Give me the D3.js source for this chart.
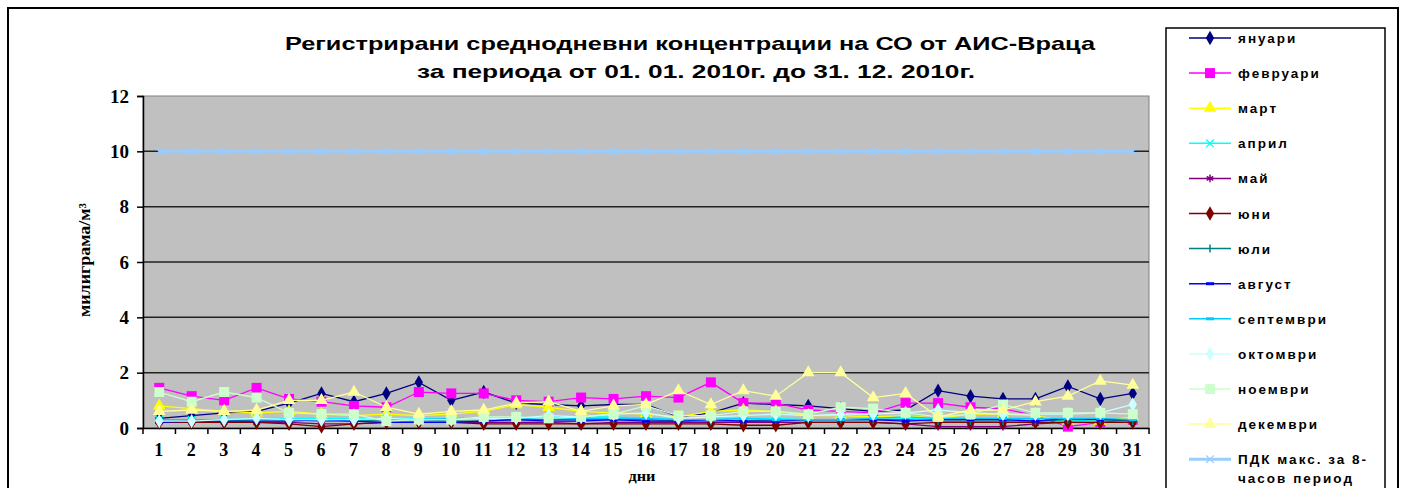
<!DOCTYPE html>
<html>
<head>
<meta charset="utf-8">
<script src="https://cdn.jsdelivr.net/npm/d3@7"></script>
<style>
  body { margin: 0; background: #fff; }
  svg { display: block; }
</style>
</head>
<body>
<div id="chart"></div>
<script>
// day labels on the x axis
var days = [1,2,3,4,5,6,7,8,9,10,11,12,13,14,15,16,17,18,19,20,21,22,23,24,25,26,27,28,29,30,31];
var yTicks = [0,2,4,6,8,10,12];

// daily mean CO, mg/m3
var jan = [0.35,0.45,0.55,0.6,0.9,1.25,0.95,1.25,1.65,1.0,1.3,0.9,0.85,0.8,0.85,0.85,0.4,0.55,0.9,0.85,0.8,0.7,0.6,0.65,1.35,1.15,1.05,1.05,1.5,1.05,1.25];
var feb = [1.45,1.15,1.0,1.45,1.05,0.95,0.8,0.75,1.3,1.25,1.25,1.0,0.95,1.1,1.05,1.15,1.1,1.65,0.9,0.9,0.65,0.6,0.55,0.9,0.9,0.75,0.7,0.45,0.05,0.2,0.3];
var mar = [0.8,0.7,0.6,0.55,0.6,0.5,0.45,0.5,0.45,0.5,0.6,0.85,0.75,0.6,0.55,0.5,0.4,0.6,0.65,0.6,0.45,0.45,0.4,0.45,0.35,0.5,0.5,0.45,0.25,0.25,0.4];
var apr = [0.3,0.3,0.3,0.35,0.35,0.35,0.35,0.35,0.35,0.3,0.35,0.35,0.4,0.4,0.4,0.35,0.3,0.3,0.35,0.35,0.3,0.3,0.3,0.35,0.35,0.3,0.3,0.3,0.25,0.3,0.3];
var may = [0.2,0.2,0.2,0.2,0.2,0.15,0.15,0.2,0.2,0.2,0.2,0.2,0.2,0.15,0.2,0.2,0.2,0.2,0.2,0.2,0.2,0.2,0.2,0.15,0.05,0.05,0.05,0.15,0.2,0.2,0.2];
var jun = [0.2,0.2,0.2,0.2,0.15,0.05,0.15,0.2,0.2,0.2,0.15,0.15,0.15,0.15,0.15,0.15,0.15,0.15,0.1,0.1,0.2,0.2,0.2,0.15,0.2,0.2,0.2,0.2,0.2,0.2,0.2];
var jul = [0.25,0.25,0.25,0.3,0.3,0.25,0.25,0.3,0.3,0.25,0.25,0.3,0.3,0.3,0.3,0.3,0.25,0.25,0.25,0.3,0.3,0.3,0.3,0.3,0.25,0.25,0.25,0.25,0.3,0.3,0.25];
var aug = [0.2,0.25,0.25,0.25,0.25,0.3,0.25,0.2,0.2,0.2,0.25,0.3,0.25,0.25,0.3,0.25,0.25,0.3,0.25,0.25,0.3,0.3,0.3,0.25,0.3,0.3,0.3,0.25,0.35,0.3,0.3];
var sep = [0.3,0.3,0.3,0.3,0.3,0.3,0.3,0.3,0.3,0.35,0.35,0.35,0.35,0.35,0.35,0.35,0.3,0.3,0.35,0.3,0.3,0.3,0.35,0.4,0.35,0.35,0.35,0.35,0.35,0.35,0.3];
var oct = [0.25,0.25,0.3,0.35,0.3,0.3,0.3,0.35,0.3,0.3,0.35,0.35,0.45,0.4,0.5,0.55,0.35,0.4,0.45,0.5,0.45,0.5,0.5,0.55,0.65,0.55,0.5,0.5,0.5,0.55,0.85];
var nov = [1.3,0.95,1.3,1.1,0.55,0.5,0.5,0.25,0.3,0.3,0.4,0.4,0.35,0.4,0.5,0.8,0.45,0.45,0.6,0.6,0.5,0.75,0.7,0.55,0.4,0.5,0.85,0.55,0.55,0.55,0.5];
var dec = [0.6,0.65,0.6,0.65,1.0,1.0,1.3,0.75,0.5,0.6,0.65,0.9,0.95,0.6,0.8,0.85,1.35,0.85,1.35,1.15,2.0,2.0,1.1,1.25,0.4,0.65,0.65,0.95,1.15,1.7,1.55];
var pdk = [10,10,10,10,10,10,10,10,10,10,10,10,10,10,10,10,10,10,10,10,10,10,10,10,10,10,10,10,10,10,10];

var seriesNames = ["януари","февруари","март","април","май","юни","юли","август","септември","октомври","ноември","декември","ПДК макс. за 8-часов период"];
var seriesValues = [jan,feb,mar,apr,may,jun,jul,aug,sep,oct,nov,dec,pdk];
var seriesColors = ["#000080","#ff00ff","#ffff00","#00ffff","#800080","#800000","#008080","#0000ff","#00ccff","#ccffff","#ccffcc","#ffff99","#99ccff"];
var seriesMarkers = ["diamond","square","triangle","x","star","diamond","plus","dash","dash","diamond","square","triangle","x"];

var svgWidth = 1404, svgHeight = 488;
var plot = {left: 143, top: 96, right: 1149, bottom: 428};

var svg = d3.select("#chart").append("svg")
  .attr("width", svgWidth)
  .attr("height", svgHeight);

// outer frame
svg.append("rect")
  .attr("x", 8).attr("y", 8)
  .attr("width", 1390).attr("height", 490)
  .attr("fill", "#fff").attr("stroke", "#000").attr("stroke-width", 2);

// scales
var x = d3.scaleBand().domain(days).range([plot.left, plot.right]).padding(0);
var y = d3.scaleLinear().domain([0, 12]).range([plot.bottom, plot.top]);
var cx = function(i) { return x(days[i]) + x.bandwidth() / 2; };

// plot area
svg.append("rect")
  .attr("x", plot.left).attr("y", plot.top)
  .attr("width", plot.right - plot.left).attr("height", plot.bottom - plot.top)
  .attr("fill", "#c0c0c0").attr("stroke", "#808080").attr("stroke-width", 1);

// gridlines
svg.append("g").selectAll("line")
  .data(yTicks.filter(function(d) { return d > 0 && d < 12; }))
  .enter().append("line")
  .attr("x1", plot.left).attr("x2", plot.right)
  .attr("y1", function(d) { return y(d); }).attr("y2", function(d) { return y(d); })
  .attr("stroke", "#222").attr("stroke-width", 1.5);

// y axis
var yAxis = d3.axisLeft(y).tickValues(yTicks).tickSize(6).tickPadding(8);
var gy = svg.append("g").attr("transform", "translate(" + plot.left + ",0)").call(yAxis);
gy.select(".domain").attr("stroke", "#000").attr("stroke-width", 1.5);
gy.selectAll(".tick line").attr("stroke", "#000").attr("stroke-width", 1.5);
gy.selectAll("text")
  .attr("font-family", "'Liberation Serif', 'DejaVu Serif', serif")
  .attr("font-weight", "bold").attr("font-size", 19).attr("fill", "#000");

// x axis: labels centered in bands, ticks on band edges
var xAxis = d3.axisBottom(x).tickSize(0).tickPadding(15);
var gx = svg.append("g").attr("transform", "translate(0," + plot.bottom + ")").call(xAxis);
gx.select(".domain").attr("stroke", "#000").attr("stroke-width", 1.5);
gx.selectAll("text")
  .attr("font-family", "'Liberation Serif', 'DejaVu Serif', serif")
  .attr("font-weight", "bold").attr("font-size", 18).attr("letter-spacing", 1).attr("fill", "#000");
gx.selectAll(".edge").data(days.concat([null])).enter().append("line")
  .attr("class", "edge")
  .attr("x1", function(d, i) { return plot.left + i * x.bandwidth(); })
  .attr("x2", function(d, i) { return plot.left + i * x.bandwidth(); })
  .attr("y1", 0).attr("y2", 6)
  .attr("stroke", "#000").attr("stroke-width", 1.5);

// axis titles
svg.append("text")
  .attr("transform", "translate(90," + ((plot.top + plot.bottom) / 2 - 2) + ") rotate(-90)")
  .attr("text-anchor", "middle")
  .attr("font-family", "'Liberation Serif', serif").attr("font-weight", "bold").attr("font-size", 16)
  .attr("textLength", 114).attr("lengthAdjust", "spacingAndGlyphs")
  .text("милиграма/м³");
svg.append("text")
  .attr("x", 642).attr("y", 481)
  .attr("text-anchor", "middle")
  .attr("font-family", "'Liberation Serif', serif").attr("font-weight", "bold").attr("font-size", 14)
  .attr("textLength", 27).attr("lengthAdjust", "spacingAndGlyphs")
  .text("дни");

// title, stretched wide like the original
var title = svg.append("text")
  .attr("text-anchor", "middle")
  .attr("font-family", "'Liberation Sans', Arial, sans-serif").attr("font-weight", "bold")
  .attr("font-size", 19).attr("fill", "#000");
title.append("tspan").attr("x", 690).attr("y", 50)
  .attr("textLength", 810).attr("lengthAdjust", "spacingAndGlyphs")
  .text("Регистрирани среднодневни концентрации на СО от  АИС-Враца");
title.append("tspan").attr("x", 696).attr("y", 78)
  .attr("textLength", 558).attr("lengthAdjust", "spacingAndGlyphs")
  .text("за периода от 01. 01. 2010г. до 31. 12. 2010г.");

// markers
function drawMarker(g, type, color, px, py) {
  if (type === "diamond") {
    g.append("path").attr("d", d3.symbol().type(d3.symbolDiamond).size(60)())
      .attr("transform", "translate(" + px + "," + py + ")").attr("fill", color);
  } else if (type === "square") {
    g.append("rect").attr("x", px - 5).attr("y", py - 5).attr("width", 10).attr("height", 10).attr("fill", color);
  } else if (type === "triangle") {
    g.append("path").attr("d", d3.symbol().type(d3.symbolTriangle).size(70)())
      .attr("transform", "translate(" + px + "," + py + ")").attr("fill", color);
  } else if (type === "x") {
    g.append("path").attr("d", d3.symbol().type(d3.symbolX).size(40)())
      .attr("transform", "translate(" + px + "," + py + ")").attr("fill", "none").attr("stroke", color).attr("stroke-width", 1.2);
  } else if (type === "star") {
    g.append("path").attr("d", d3.symbol().type(d3.symbolAsterisk).size(40)())
      .attr("transform", "translate(" + px + "," + py + ")").attr("fill", "none").attr("stroke", color).attr("stroke-width", 1.5);
  } else if (type === "plus") {
    g.append("line").attr("x1", px).attr("x2", px).attr("y1", py - 4).attr("y2", py + 4)
      .attr("stroke", color).attr("stroke-width", 1.5);
  } else if (type === "dash") {
    g.append("line").attr("x1", px - 4).attr("x2", px + 4).attr("y1", py).attr("y2", py)
      .attr("stroke", color).attr("stroke-width", 3);
  }
}

// series lines
var line = d3.line().x(function(d, i) { return cx(i); }).y(function(d) { return y(d); });

seriesValues.forEach(function(vals, s) {
  var g = svg.append("g");
  g.append("path").datum(vals)
    .attr("d", line)
    .attr("fill", "none")
    .attr("stroke", seriesColors[s])
    .attr("stroke-width", s === 12 ? 3 : 1.3);
  vals.forEach(function(v, i) {
    drawMarker(g, seriesMarkers[s], seriesColors[s], cx(i), y(v));
  });
});

// legend
var legend = svg.append("g");
legend.append("rect")
  .attr("x", 1166).attr("y", 28).attr("width", 219).attr("height", 480)
  .attr("fill", "#fff").attr("stroke", "#000").attr("stroke-width", 1.5);

seriesNames.forEach(function(name, s) {
  var ly = 38 + s * 35.1;
  var g = legend.append("g");
  g.append("line").attr("x1", 1189).attr("x2", 1231).attr("y1", ly).attr("y2", ly)
    .attr("stroke", seriesColors[s]).attr("stroke-width", s === 12 ? 3 : 1.5);
  drawMarker(g, seriesMarkers[s], seriesColors[s], 1210, ly);
  var t = g.append("text")
    .attr("font-family", "'Liberation Sans', Arial, sans-serif").attr("font-weight", "bold")
    .attr("font-size", 13.5).attr("letter-spacing", 2).attr("fill", "#000");
  if (s === 12) {
    t.append("tspan").attr("x", 1238).attr("y", ly + 5).text("ПДК макс. за 8-");
    t.append("tspan").attr("x", 1238).attr("y", ly + 24).text("часов период");
  } else {
    t.attr("x", 1238).attr("y", ly + 5).text(name);
  }
});

// right frame line
svg.append("line").attr("x1", 1398).attr("x2", 1398).attr("y1", 8).attr("y2", 488)
  .attr("stroke", "#000").attr("stroke-width", 2);
</script>
</body>
</html>
